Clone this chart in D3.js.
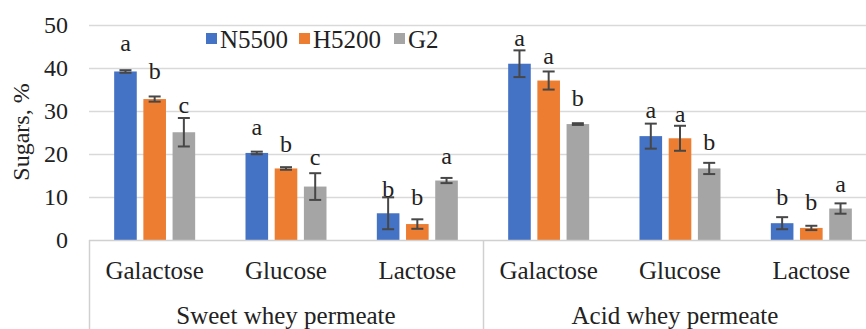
<!DOCTYPE html>
<html>
<head>
<meta charset="utf-8">
<script src="https://cdn.jsdelivr.net/npm/d3@7"></script>
<style>
  body { margin: 0; background: #fff; }
  svg text { font-family: "Liberation Serif", "DejaVu Serif", serif; fill: #222; }
</style>
</head>
<body>
<script>
// data
const groups = ["Sweet whey permeate", "Acid whey permeate"];
const sugars = ["Galactose", "Glucose", "Lactose"];
const series = ["N5500", "H5200", "G2"];
const colors = ["#4472C4", "#ED7D31", "#A5A5A5"];

// values per category (sweet Gal, Glu, Lac, acid Gal, Glu, Lac), one array per series
const values = {
  N5500: [39.1, 20.2, 6.2, 40.9, 24.1, 3.9],
  H5200: [32.7, 16.6, 3.7, 37.0, 23.6, 2.8],
  G2:    [25.0, 12.4, 13.8, 26.9, 16.6, 7.3]
};
const errors = {
  N5500: [0.3, 0.3, 3.7, 3.1, 2.9, 1.4],
  H5200: [0.6, 0.3, 1.1, 2.1, 2.9, 0.5],
  G2:    [3.3, 3.1, 0.6, 0.2, 1.3, 1.2]
};
const letters = {
  N5500: ["a", "a", "b", "a", "a", "b"],
  H5200: ["b", "b", "b", "a", "a", "b"],
  G2:    ["c", "c", "a", "b", "b", "a"]
};
// where each letter sits, in % units
const letterPos = {
  N5500: [43.8, 24.3, 10.0, 44.9, 28.2, 8.1],
  H5200: [37.3, 20.4, 8.1, 40.9, 27.4, 6.9],
  G2:    [29.4, 17.4, 17.7, 31.0, 20.8, 11.2]
};
const yTicks = [0, 10, 20, 30, 40, 50];

const width = 866, height = 329;
const plot = { left: 89, right: 877, top: 24, bottom: 240 };
const font = "'Liberation Serif', 'DejaVu Serif', serif";

const categories = [];
groups.forEach(g => sugars.forEach(s => categories.push(g + "|" + s)));

const svg = d3.select("body").append("svg")
  .attr("width", width)
  .attr("height", height)
  .attr("font-family", font);

const x0 = d3.scaleBand()
  .domain(categories)
  .range([plot.left, plot.right]);

const xGroup = d3.scaleBand()
  .domain(groups)
  .range([plot.left, plot.right]);

const x1 = d3.scaleBand()
  .domain(series)
  .range([0, 81])
  .paddingInner(0.226);

const y = d3.scaleLinear()
  .domain([0, 50])
  .range([plot.bottom, plot.top + 0.5]);

// gridlines
svg.append("g")
  .selectAll("line")
  .data(yTicks.filter(d => d > 0))
  .join("line")
    .attr("x1", plot.left)
    .attr("x2", plot.right)
    .attr("y1", d => Math.round(y(d)) + 0.5)
    .attr("y2", d => Math.round(y(d)) + 0.5)
    .attr("stroke", "#d9d9d9")
    .attr("stroke-width", 1.5);

// y tick labels
svg.append("g")
  .selectAll("text")
  .data(yTicks)
  .join("text")
    .attr("x", 68)
    .attr("y", d => y(d))
    .attr("dy", "0.35em")
    .attr("text-anchor", "end")
    .style("font-size", "24px")
    .text(d => d);

// y title
svg.append("text")
  .attr("transform", "translate(29,132) rotate(-90)")
  .attr("text-anchor", "middle")
  .style("font-size", "24px")
  .text("Sugars, %");

// bars
const catG = svg.append("g")
  .selectAll("g")
  .data(categories)
  .join("g")
    .attr("transform", d => `translate(${x0(d) + x0.bandwidth() / 2 - 40.5},0)`);

const rows = (c, ci) => series.map((s, si) => ({
  s, si,
  v: values[s][ci],
  e: errors[s][ci],
  l: letters[s][ci],
  lp: letterPos[s][ci]
}));

catG.selectAll("rect")
  .data(rows)
  .join("rect")
    .attr("x", d => x1(d.s))
    .attr("y", d => y(d.v))
    .attr("width", x1.bandwidth())
    .attr("height", d => y(0) - y(d.v))
    .attr("fill", d => colors[d.si]);

// error bars
const err = catG.selectAll("g.err")
  .data(rows)
  .join("g")
    .attr("class", "err")
    .attr("transform", d => `translate(${x1(d.s) + x1.bandwidth() / 2},0)`)
    .attr("stroke", "#474747")
    .attr("stroke-width", 2);

err.append("line")
  .attr("y1", d => y(d.v + d.e))
  .attr("y2", d => y(d.v - d.e));
err.append("line")
  .attr("x1", -6).attr("x2", 6)
  .attr("y1", d => y(d.v + d.e))
  .attr("y2", d => y(d.v + d.e));
err.append("line")
  .attr("x1", -6).attr("x2", 6)
  .attr("y1", d => y(d.v - d.e))
  .attr("y2", d => y(d.v - d.e));

// significance letters
catG.selectAll("text.letter")
  .data(rows)
  .join("text")
    .attr("class", "letter")
    .attr("x", d => x1(d.s) + x1.bandwidth() / 2)
    .attr("y", d => y(d.lp))
    .attr("text-anchor", "middle")
    .style("font-size", "24px")
    .text(d => d.l);

// category axis
svg.append("line")
  .attr("x1", plot.left).attr("x2", plot.right)
  .attr("y1", plot.bottom + 0.5).attr("y2", plot.bottom + 0.5)
  .attr("stroke", "#d0d0d0")
  .attr("stroke-width", 1.5);

svg.append("g")
  .selectAll("line")
  .data(groups)
  .join("line")
    .attr("x1", d => xGroup(d) + 0.5)
    .attr("x2", d => xGroup(d) + 0.5)
    .attr("y1", plot.bottom)
    .attr("y2", height)
    .attr("stroke", "#d0d0d0")
    .attr("stroke-width", 1.5);

svg.append("g")
  .selectAll("text")
  .data(categories)
  .join("text")
    .attr("x", d => x0(d) + x0.bandwidth() / 2)
    .attr("y", 279)
    .attr("text-anchor", "middle")
    .style("font-size", "25px")
    .text(d => d.split("|")[1]);

svg.append("g")
  .selectAll("text")
  .data(groups)
  .join("text")
    .attr("x", d => xGroup(d) + xGroup.bandwidth() / 2 - (d === groups[1] ? 5 : 0))
    .attr("y", 324)
    .attr("text-anchor", "middle")
    .style("font-size", "25px")
    .text(d => d);

// legend
const legendX = [206, 299, 394];
const legend = svg.append("g")
  .selectAll("g")
  .data(series)
  .join("g")
    .attr("transform", (d, i) => `translate(${legendX[i]},33)`);

legend.append("rect")
  .attr("width", 11)
  .attr("height", 11)
  .attr("fill", (d, i) => colors[i]);

legend.append("text")
  .attr("x", 14)
  .attr("y", 6)
  .attr("dy", "0.35em")
  .style("font-size", "25px")
  .text(d => d);
</script>
</body>
</html>
